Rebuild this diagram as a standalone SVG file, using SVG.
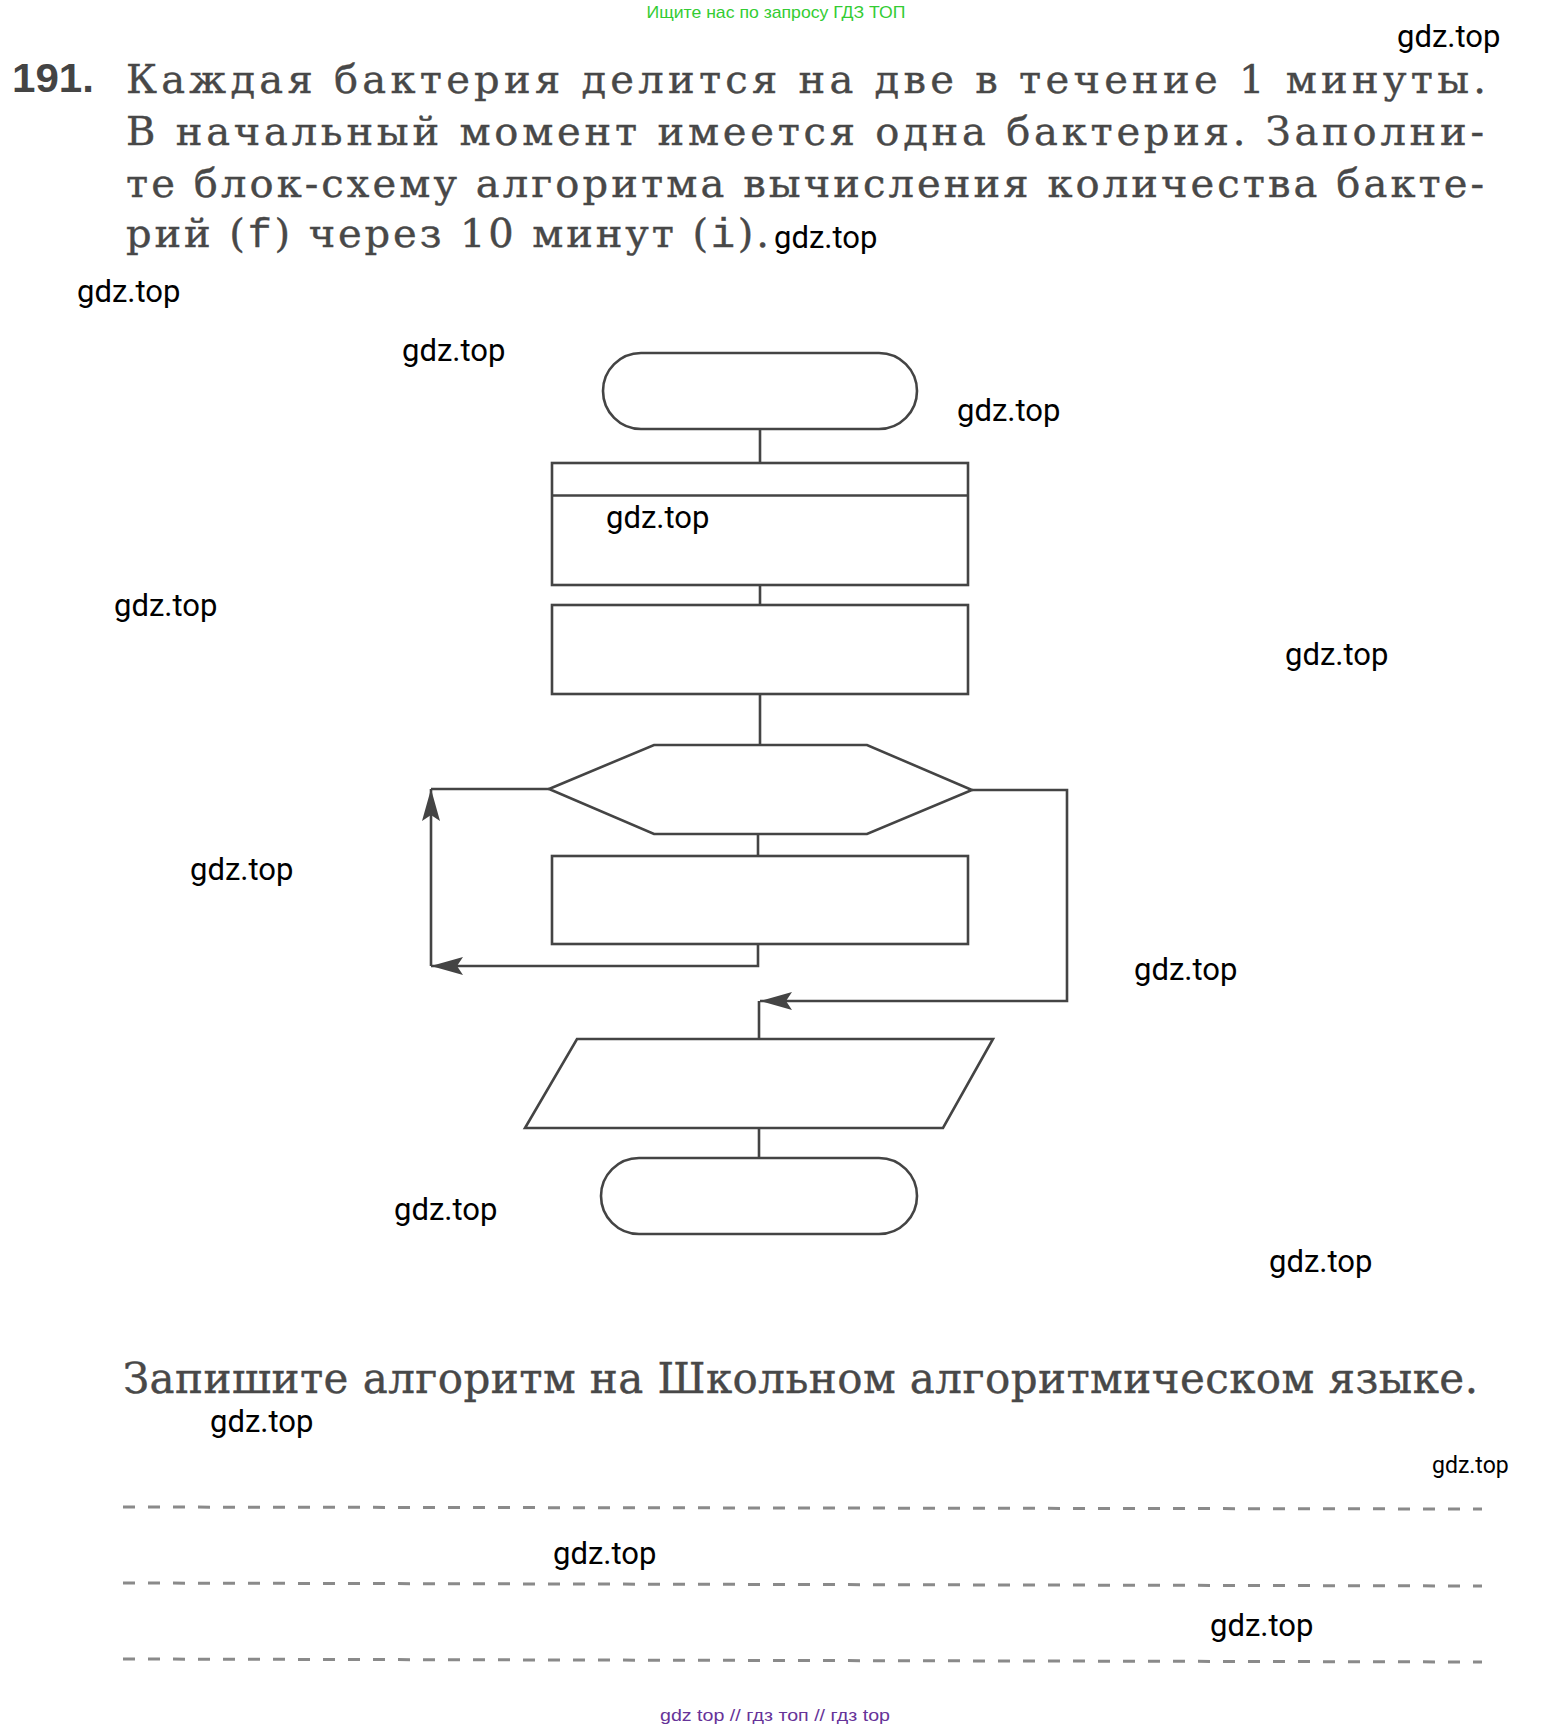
<svg xmlns="http://www.w3.org/2000/svg" width="1553" height="1731" viewBox="0 0 1553 1731">
  <style>
    .title { font-family: "DejaVu Serif", "Liberation Serif", serif; font-size: 40px; fill: #484848; stroke: #484848; stroke-width: 0.4; }
    .mono { font-family: "Liberation Mono", "DejaVu Sans Mono", monospace; }
    .num { font-family: "Liberation Sans", Arial, sans-serif; font-weight: bold; font-size: 40px; fill: #444; }
    .wm { font-family: Roboto, "Open Sans", sans-serif; font-size: 31px; fill: #000; }
    .shape { fill: #fff; stroke: #444; stroke-width: 2.6; stroke-linejoin: miter; }
    .conn { fill: none; stroke: #444; stroke-width: 2.6; }
    .dash { stroke: #8a8a8a; stroke-width: 3; stroke-dasharray: 12 13; }
  </style>
  <defs>
    <marker id="arrow" viewBox="0 0 32 18" refX="32" refY="9" markerWidth="32" markerHeight="18" markerUnits="userSpaceOnUse" orient="auto">
      <path d="M0,0 L32,9 L0,18 L6,9 Z" fill="#444"/>
    </marker>
  </defs>
  <rect width="1553" height="1731" fill="#fff"/>

  <text x="776" y="18" text-anchor="middle" font-family="Liberation Sans, Arial, sans-serif" font-size="17" fill="#33cc33" textLength="259" lengthAdjust="spacingAndGlyphs">Ищите нас по запросу ГДЗ ТОП</text>

  <g id="task-text">
    <text class="num" x="12" y="92" textLength="82" lengthAdjust="spacingAndGlyphs">191.</text>
    <text class="title" x="126" y="93" textLength="1360" lengthAdjust="spacing">Каждая бактерия делится на две в течение 1 минуты.</text>
    <text class="title" x="126" y="145" textLength="1358" lengthAdjust="spacing">В начальный момент имеется одна бактерия. Заполни-</text>
    <text class="title" x="126" y="197" textLength="1358" lengthAdjust="spacing">те блок-схему алгоритма вычисления количества бакте-</text>
    <text class="title" x="126" y="247" textLength="643" lengthAdjust="spacing">рий (<tspan class="mono">f</tspan>) через 10 минут (<tspan class="mono">i</tspan>).</text>
  </g>

  <g id="connectors">
    <path class="conn" d="M760,429 V463"/>
    <path class="conn" d="M760,585 V605"/>
    <path class="conn" d="M760,694 V745"/>
    <path class="conn" d="M758,834 V856"/>
    <path class="conn" d="M758,944 V966 H431" marker-end="url(#arrow)"/>
    <path class="conn" d="M431,966 V789" marker-end="url(#arrow)"/>
    <path class="conn" d="M431,789 H549"/>
    <path class="conn" d="M972,790 H1067 V1001 H760" marker-end="url(#arrow)"/>
    <path class="conn" d="M759,1001 V1039"/>
    <path class="conn" d="M759,1128 V1158"/>
  </g>

  <g id="start">
    <rect class="shape" x="603" y="353" width="314" height="76" rx="38" ry="38"/>
  </g>
  <g id="init">
    <rect class="shape" x="552" y="463" width="416" height="122"/>
    <line class="conn" x1="552" y1="495.5" x2="968" y2="495.5"/>
  </g>
  <g id="process">
    <rect class="shape" x="552" y="605" width="416" height="89"/>
  </g>
  <g id="loop">
    <polygon class="shape" points="549,789 654,745 867,745 972,790 867,834 654,834"/>
  </g>
  <g id="loop-body">
    <rect class="shape" x="552" y="856" width="416" height="88"/>
  </g>
  <g id="output">
    <polygon class="shape" points="577,1039 993,1039 943,1128 525,1128"/>
  </g>
  <g id="end">
    <rect class="shape" x="601" y="1158" width="316" height="76" rx="38" ry="38"/>
  </g>

  <text class="title" x="123" y="1393" textLength="1355" lengthAdjust="spacing" style="font-size:42px">Запишите алгоритм на Школьном алгоритмическом языке.</text>

  <g id="answer-lines">
    <line class="dash" x1="123" y1="1507" x2="1482" y2="1509"/>
    <line class="dash" x1="123" y1="1583" x2="1482" y2="1586"/>
    <line class="dash" x1="123" y1="1659" x2="1482" y2="1662"/>
  </g>

  <g id="watermarks">
    <text class="wm" x="1397" y="47">gdz.top</text>
    <text class="wm" x="774" y="248">gdz.top</text>
    <text class="wm" x="77" y="302">gdz.top</text>
    <text class="wm" x="402" y="361">gdz.top</text>
    <text class="wm" x="957" y="421">gdz.top</text>
    <text class="wm" x="606" y="528">gdz.top</text>
    <text class="wm" x="114" y="616">gdz.top</text>
    <text class="wm" x="1285" y="665">gdz.top</text>
    <text class="wm" x="190" y="880">gdz.top</text>
    <text class="wm" x="1134" y="980">gdz.top</text>
    <text class="wm" x="394" y="1220">gdz.top</text>
    <text class="wm" x="1269" y="1272">gdz.top</text>
    <text class="wm" x="210" y="1432">gdz.top</text>
    <text class="wm" x="1432" y="1473" style="font-size:23px">gdz.top</text>
    <text class="wm" x="553" y="1564">gdz.top</text>
    <text class="wm" x="1210" y="1636">gdz.top</text>
  </g>

  <text x="775" y="1721" text-anchor="middle" font-family="Liberation Sans, Arial, sans-serif" font-size="17" fill="#663399" textLength="230" lengthAdjust="spacingAndGlyphs">gdz top // гдз топ // гдз top</text>
</svg>
